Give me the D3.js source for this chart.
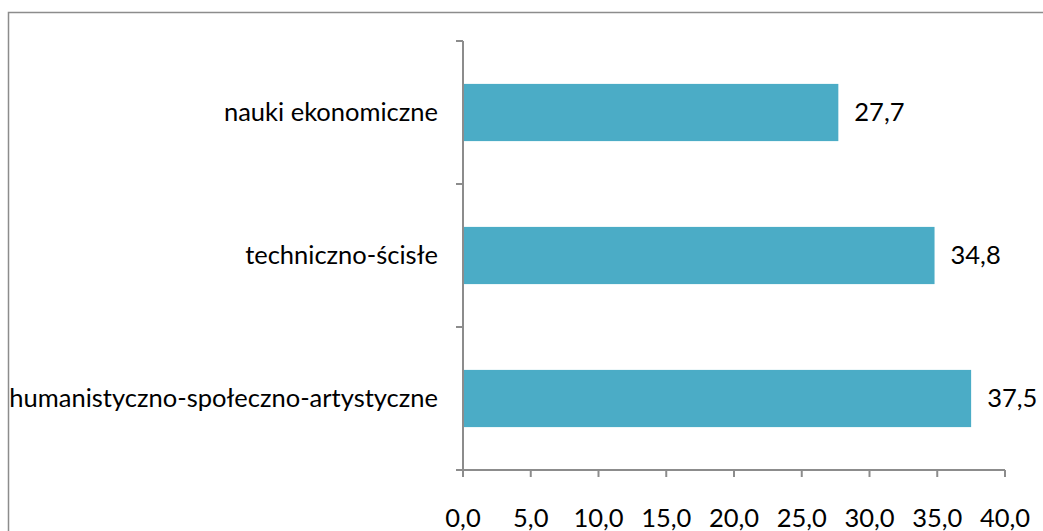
<!DOCTYPE html>
<html>
<head>
<meta charset="utf-8">
<script src="https://cdn.jsdelivr.net/npm/d3@7"></script>
<style>
  body { margin: 0; background: #fff; }
  text { font-family: Lato, "Open Sans", sans-serif; fill: #000; font-size: 25.5px; }
</style>
</head>
<body>
<div id="chart"></div>
<script>
// data, top to bottom
var categories = ['nauki ekonomiczne', 'techniczno-ścisłe', 'humanistyczno-społeczno-artystyczne']
var values = [27.7, 34.8, 37.5]
var xTicks = [0, 5, 10, 15, 20, 25, 30, 35, 40]

var width = 1043
var height = 531
var margin = { top: 41, right: 38, bottom: 61, left: 463 }
var axisColor = '#8c8c8c'
var fmt = function (v) { return v.toFixed(1).replace('.', ',') }

var svg = d3.select('#chart')
    .append('svg')
    .attr('width', width)
    .attr('height', height)

// outer frame (runs off the right and bottom edge)
svg.append('rect')
    .attr('x', 8.5)
    .attr('y', 12.5)
    .attr('width', width)
    .attr('height', height)
    .style('fill', 'none')
    .style('stroke', axisColor)
    .style('stroke-width', 1.5)

var x = d3.scaleLinear()
    .domain([0, 40])
    .range([margin.left, width - margin.right])

var y = d3.scaleBand()
    .domain(categories)
    .range([margin.top, height - margin.bottom])
    .paddingInner(0.6)
    .paddingOuter(0.3)

var yTicks = d3.scaleBand()
    .domain(categories)
    .range([margin.top, height - margin.bottom])

// bars
svg.selectAll('rect.bar')
    .data(values)
    .enter()
    .append('rect')
    .attr('class', 'bar')
    .attr('x', x(0))
    .attr('y', function (d, i) { return y(categories[i]) })
    .attr('width', function (d) { return x(d) - x(0) })
    .attr('height', y.bandwidth())
    .style('fill', '#4bacc6')

// value labels
svg.selectAll('text.val')
    .data(values)
    .enter()
    .append('text')
    .attr('class', 'val')
    .attr('x', function (d) { return x(d) + 16 })
    .attr('y', function (d, i) { return y(categories[i]) + y.bandwidth() / 2 })
    .attr('dy', '0.35em')
    .text(fmt)

// y axis
var gy = svg.append('g')
gy.append('line')
    .attr('x1', x(0)).attr('x2', x(0))
    .attr('y1', margin.top).attr('y2', height - margin.bottom)
    .style('stroke', axisColor).style('stroke-width', 2)
var yEdges = categories.map(function (c) { return yTicks(c) })
yEdges.push(height - margin.bottom)
gy.selectAll('line.tick')
    .data(yEdges)
    .enter()
    .append('line')
    .attr('x1', x(0) - 7).attr('x2', x(0))
    .attr('y1', function (d) { return d }).attr('y2', function (d) { return d })
    .style('stroke', axisColor).style('stroke-width', 2)
gy.selectAll('text')
    .data(categories)
    .enter()
    .append('text')
    .attr('x', x(0) - 25)
    .attr('y', function (d) { return yTicks(d) + yTicks.bandwidth() / 2 })
    .attr('dy', '0.35em')
    .attr('text-anchor', 'end')
    .text(function (d) { return d })

// x axis
var gx = svg.append('g')
gx.append('line')
    .attr('x1', x(0)).attr('x2', x(40))
    .attr('y1', height - margin.bottom).attr('y2', height - margin.bottom)
    .style('stroke', axisColor).style('stroke-width', 2)
gx.selectAll('line.tick')
    .data(xTicks)
    .enter()
    .append('line')
    .attr('x1', function (d) { return x(d) }).attr('x2', function (d) { return x(d) })
    .attr('y1', height - margin.bottom).attr('y2', height - margin.bottom + 7)
    .style('stroke', axisColor).style('stroke-width', 2)
gx.selectAll('text')
    .data(xTicks)
    .enter()
    .append('text')
    .attr('x', function (d) { return x(d) })
    .attr('y', 518)
    .attr('dy', '0.35em')
    .attr('text-anchor', 'middle')
    .text(fmt)
</script>
</body>
</html>
